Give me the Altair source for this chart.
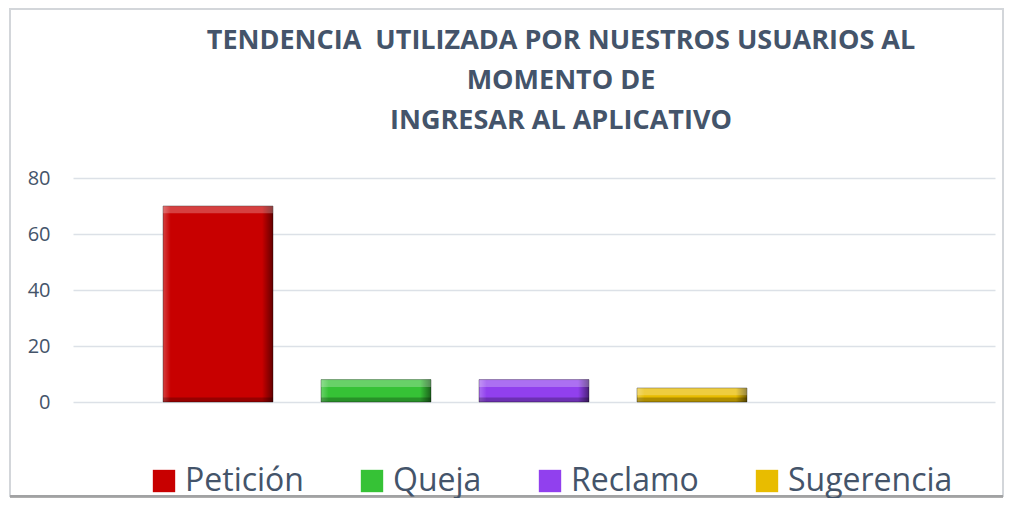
import altair as alt
import pandas as pd

categorias = ["Petición", "Queja", "Reclamo", "Sugerencia"]
valores = [70, 8, 8, 5]
colores = ["#C80000", "#36C236", "#9140EE", "#E8BC00"]
ticks_y = [0, 20, 40, 60, 80]
titulo = ["TENDENCIA \u00a0UTILIZADA POR NUESTROS USUARIOS AL", "MOMENTO DE", "INGRESAR AL APLICATIVO"]
# Excel category axis keeps one empty slot after the four categories
dominio_x = categorias + [" "]

df = pd.DataFrame({"categoria": categorias, "valor": valores})
TXT = "#44546A"

x = alt.X("categoria:N", sort=dominio_x, axis=None,
          scale=alt.Scale(domain=dominio_x, paddingInner=0.304, paddingOuter=0.57))
y = alt.Y("valor:Q", scale=alt.Scale(domain=[0, 80], nice=False),
          axis=alt.Axis(values=ticks_y, title=None, domain=False, ticks=False,
                        labelFontSize=20, labelFont="Open Sans", labelColor=TXT,
                        labelPadding=23, gridColor="#DCE1E7", gridWidth=1.5))

base = alt.Chart(df)

bars = base.mark_bar().encode(
    x=x, y=y,
    color=alt.Color("categoria:N", sort=categorias,
                    scale=alt.Scale(domain=categorias, range=colores),
                    legend=alt.Legend(title=None, orient="none", legendX=75, legendY=287,
                                      direction="horizontal", columns=4, symbolType="square",
                                      symbolSize=500, symbolStrokeWidth=0, symbolOpacity=1,
                                      labelFontSize=32, labelFont="Open Sans", labelColor=TXT,
                                      labelOffset=5, columnPadding=52, labelLimit=0)),
)

shade = base.mark_bar(
    fill=alt.LinearGradient(
        gradient="linear", x1=0, x2=1, y1=0, y2=0,
        stops=[alt.GradientStop(color="rgba(255,255,255,0.25)", offset=0),
               alt.GradientStop(color="rgba(255,255,255,0)", offset=0.07),
               alt.GradientStop(color="rgba(0,0,0,0)", offset=0.9),
               alt.GradientStop(color="rgba(0,0,0,0.5)", offset=1)]),
    stroke="rgba(0,0,0,0.35)", strokeWidth=1,
).encode(x=x, y="valor:Q")

top = base.transform_calculate(top_lo="datum.valor - 2.6").mark_bar(
    color="white", opacity=0.25).encode(x=x, y="valor:Q", y2="top_lo:Q")

bottom = base.mark_bar(color="black", opacity=0.25).encode(
    x=x, y=alt.Y(datum=1.6), y2=alt.Y2(datum=0))

frame_df = pd.DataFrame({"k": [0]})
frame = alt.Chart(frame_df).mark_rect(fillOpacity=0, stroke="#D3D6DA", strokeWidth=2).encode(
    x=alt.value(-63), x2=alt.value(930), y=alt.value(-169), y2=alt.value(318))
shadow = alt.Chart(frame_df).mark_rule(stroke="#8C8C8C", strokeWidth=4, opacity=0.7).encode(
    x=alt.value(-63), x2=alt.value(930), y=alt.value(319))

title_mark = alt.Chart(frame_df).mark_text(
    font="Open Sans", fontSize=27, fontWeight="bold", color=TXT,
    align="center", baseline="alphabetic", lineHeight=40,
).encode(x=alt.value(488), y=alt.value(-129), text=alt.value(titulo))

chart = alt.layer(frame, title_mark, bars, shade, top, bottom, shadow).properties(
    width=922, height=224,
    autosize=alt.AutoSizeParams(type="none"),
    padding={"left": 65, "top": 170, "right": 10, "bottom": 96},
).configure_view(stroke=None)

chart.save("out.html", embed_options={"renderer": "svg", "actions": False})
